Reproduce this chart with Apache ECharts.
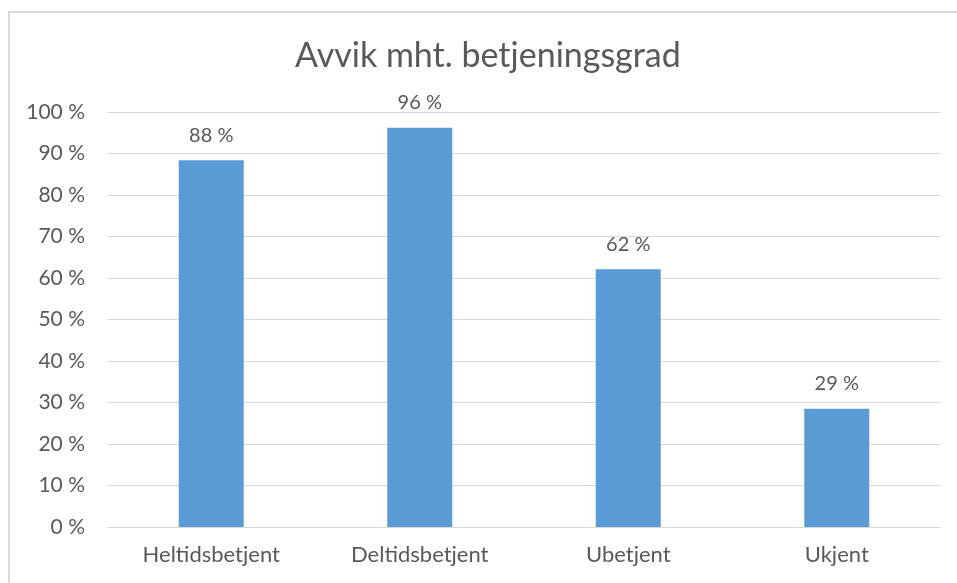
<!DOCTYPE html>
<html>
<head>
<meta charset="utf-8">
<script src="https://cdn.jsdelivr.net/npm/echarts@6/dist/echarts.min.js"></script>
<style>html,body{margin:0;padding:0;background:#fff;}#c{width:957px;height:583px;}</style>
</head>
<body>
<div id="c"></div>
<script>
const title = 'Avvik mht. betjeningsgrad';
const categories = ['Heltidsbetjent', 'Deltidsbetjent', 'Ubetjent', 'Ukjent'];
const values = [88.4, 96.2, 62.1, 28.5];
const yTicks = [0, 10, 20, 30, 40, 50, 60, 70, 80, 90, 100];

const FONT = 'Lato';
const chart = echarts.init(document.getElementById('c'), null, {renderer: 'canvas'});
chart.setOption({
  animation: false,
  backgroundColor: '#ffffff',
  graphic: [{
    type: 'rect', silent: true,
    shape: {x: 9, y: 12, width: 1000, height: 700},
    style: {fill: 'none', stroke: '#d9d9d9', lineWidth: 2}
  }],
  title: {
    text: title, left: 290, top: 34,
    textStyle: {fontFamily: FONT, fontSize: 34, fontWeight: 'normal', color: '#595959'}
  },
  grid: {left: 107, right: 16, top: 112, bottom: 56, containLabel: false},
  xAxis: {
    type: 'category', data: categories,
    axisLine: {lineStyle: {color: '#d9d9d9', width: 1}},
    axisTick: {show: false},
    axisLabel: {fontFamily: FONT, fontSize: 22, color: '#595959', margin: 17}
  },
  yAxis: {
    type: 'value', min: yTicks[0], max: yTicks[yTicks.length - 1], interval: 10,
    axisLine: {show: false}, axisTick: {show: false},
    splitLine: {lineStyle: {color: '#d9d9d9', width: 1}},
    axisLabel: {fontFamily: FONT, fontSize: 21, color: '#595959', margin: 22,
      formatter: v => v + ' %'}
  },
  series: [{
    type: 'bar', data: values, barWidth: 65,
    itemStyle: {color: '#5b9bd5'},
    label: {show: true, position: 'top', distance: 15, fontFamily: FONT, fontSize: 20, color: '#595959',
      formatter: p => Math.round(p.value) + ' %'}
  }]
});
</script>
</body>
</html>
